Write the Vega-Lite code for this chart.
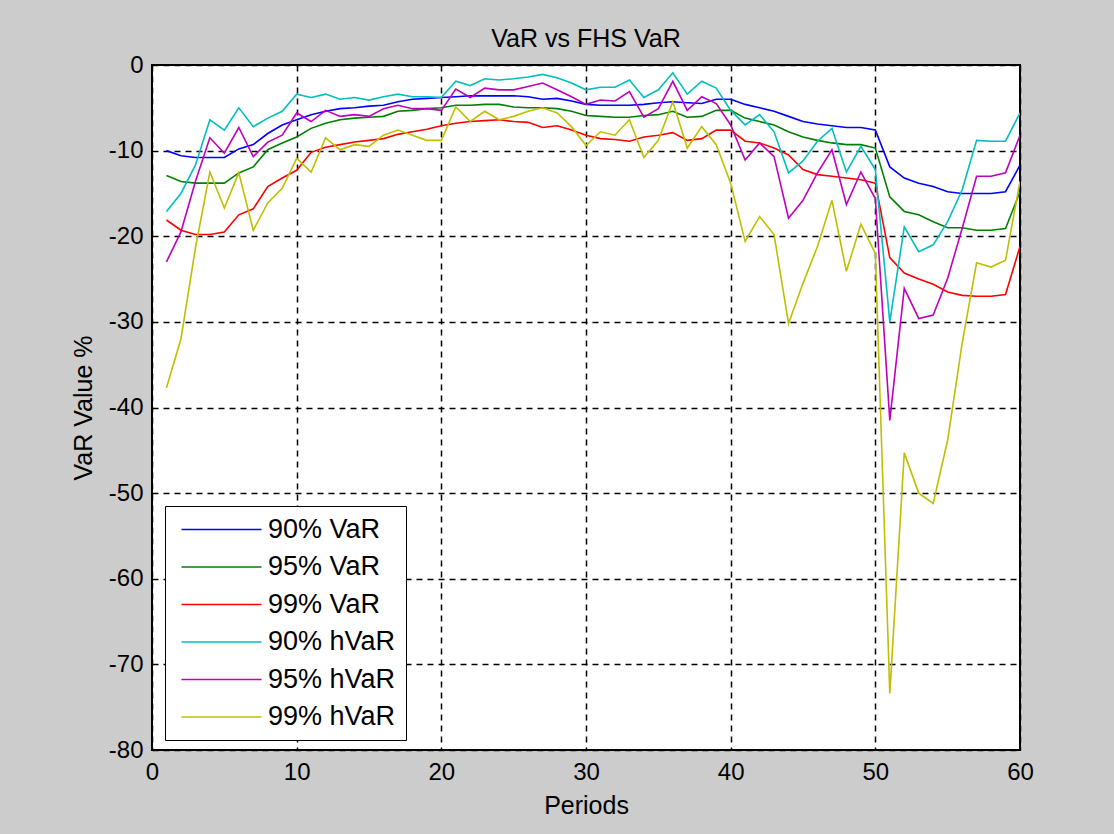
{
  "$schema": "https://vega.github.io/schema/vega-lite/v6.json",
  "width": 868,
  "height": 685,
  "autosize": "none",
  "padding": {"left": 152, "top": 65, "right": 94, "bottom": 84},
  "background": "#cccccc",
  "title": {"text": "VaR vs FHS VaR", "font": "Liberation Sans", "fontSize": 25, "fontWeight": "normal", "color": "black", "offset": 1},
  "config": {
    "view": {"fill": "white", "stroke": "black", "strokeWidth": 2},
    "axis": {"labelFont": "Liberation Sans", "labelFontSize": 24, "labelColor": "black", "titleFont": "Liberation Sans", "titleFontSize": 25, "titleFontWeight": "normal", "titleColor": "black", "ticks": false, "domain": false, "grid": true, "gridColor": "black", "gridDash": [6, 5], "gridWidth": 1.5, "gridOpacity": 1, "labelExpr": "'' + datum.value"}
  },
  "data": {
    "values": [
      {"p": 1, "90% VaR": -10.0, "95% VaR": -12.9, "99% VaR": -18.1, "90% hVaR": -17.1, "95% hVaR": -23.0, "99% hVaR": -37.7},
      {"p": 2, "90% VaR": -10.6, "95% VaR": -13.6, "99% VaR": -19.3, "90% hVaR": -15.0, "95% hVaR": -19.5, "99% hVaR": -32.0},
      {"p": 3, "90% VaR": -10.8, "95% VaR": -13.8, "99% VaR": -19.8, "90% hVaR": -11.7, "95% hVaR": -13.6, "99% hVaR": -21.4},
      {"p": 4, "90% VaR": -10.8, "95% VaR": -13.8, "99% VaR": -19.8, "90% hVaR": -6.4, "95% hVaR": -8.5, "99% hVaR": -12.5},
      {"p": 5, "90% VaR": -10.8, "95% VaR": -13.8, "99% VaR": -19.5, "90% hVaR": -7.6, "95% hVaR": -10.3, "99% hVaR": -16.7},
      {"p": 6, "90% VaR": -9.8, "95% VaR": -12.6, "99% VaR": -17.5, "90% hVaR": -5.0, "95% hVaR": -7.3, "99% hVaR": -12.6},
      {"p": 7, "90% VaR": -9.3, "95% VaR": -11.9, "99% VaR": -16.8, "90% hVaR": -7.2, "95% hVaR": -10.7, "99% hVaR": -19.3},
      {"p": 8, "90% VaR": -8.0, "95% VaR": -9.9, "99% VaR": -14.2, "90% hVaR": -6.2, "95% hVaR": -9.0, "99% hVaR": -16.1},
      {"p": 9, "90% VaR": -7.0, "95% VaR": -9.1, "99% VaR": -13.2, "90% hVaR": -5.4, "95% hVaR": -8.2, "99% hVaR": -14.4},
      {"p": 10, "90% VaR": -6.4, "95% VaR": -8.4, "99% VaR": -12.3, "90% hVaR": -3.4, "95% hVaR": -5.6, "99% hVaR": -10.9},
      {"p": 11, "90% VaR": -5.8, "95% VaR": -7.4, "99% VaR": -10.2, "90% hVaR": -3.8, "95% hVaR": -6.6, "99% hVaR": -12.5},
      {"p": 12, "90% VaR": -5.4, "95% VaR": -6.8, "99% VaR": -9.6, "90% hVaR": -3.4, "95% hVaR": -5.3, "99% hVaR": -8.5},
      {"p": 13, "90% VaR": -5.1, "95% VaR": -6.4, "99% VaR": -9.3, "90% hVaR": -4.0, "95% hVaR": -6.0, "99% hVaR": -9.9},
      {"p": 14, "90% VaR": -5.0, "95% VaR": -6.2, "99% VaR": -9.0, "90% hVaR": -3.8, "95% hVaR": -5.8, "99% hVaR": -9.3},
      {"p": 15, "90% VaR": -4.8, "95% VaR": -6.1, "99% VaR": -8.8, "90% hVaR": -4.1, "95% hVaR": -6.0, "99% hVaR": -9.5},
      {"p": 16, "90% VaR": -4.7, "95% VaR": -6.0, "99% VaR": -8.6, "90% hVaR": -3.7, "95% hVaR": -5.1, "99% hVaR": -8.2},
      {"p": 17, "90% VaR": -4.3, "95% VaR": -5.4, "99% VaR": -8.1, "90% hVaR": -3.4, "95% hVaR": -4.7, "99% hVaR": -7.6},
      {"p": 18, "90% VaR": -4.0, "95% VaR": -5.3, "99% VaR": -7.8, "90% hVaR": -3.7, "95% hVaR": -5.1, "99% hVaR": -8.2},
      {"p": 19, "90% VaR": -3.9, "95% VaR": -5.1, "99% VaR": -7.5, "90% hVaR": -3.7, "95% hVaR": -5.1, "99% hVaR": -8.8},
      {"p": 20, "90% VaR": -3.8, "95% VaR": -5.0, "99% VaR": -7.1, "90% hVaR": -3.8, "95% hVaR": -5.3, "99% hVaR": -8.8},
      {"p": 21, "90% VaR": -3.7, "95% VaR": -4.7, "99% VaR": -6.8, "90% hVaR": -1.9, "95% hVaR": -2.8, "99% hVaR": -4.9},
      {"p": 22, "90% VaR": -3.6, "95% VaR": -4.7, "99% VaR": -6.6, "90% hVaR": -2.4, "95% hVaR": -3.8, "99% hVaR": -6.6},
      {"p": 23, "90% VaR": -3.6, "95% VaR": -4.6, "99% VaR": -6.5, "90% hVaR": -1.6, "95% hVaR": -2.7, "99% hVaR": -5.4},
      {"p": 24, "90% VaR": -3.6, "95% VaR": -4.6, "99% VaR": -6.4, "90% hVaR": -1.75, "95% hVaR": -2.9, "99% hVaR": -6.4},
      {"p": 25, "90% VaR": -3.6, "95% VaR": -4.9, "99% VaR": -6.6, "90% hVaR": -1.6, "95% hVaR": -2.9, "99% hVaR": -6.0},
      {"p": 26, "90% VaR": -3.7, "95% VaR": -5.0, "99% VaR": -6.7, "90% hVaR": -1.4, "95% hVaR": -2.5, "99% hVaR": -5.4},
      {"p": 27, "90% VaR": -4.0, "95% VaR": -5.0, "99% VaR": -7.3, "90% hVaR": -1.1, "95% hVaR": -2.1, "99% hVaR": -5.0},
      {"p": 28, "90% VaR": -3.9, "95% VaR": -5.1, "99% VaR": -7.1, "90% hVaR": -1.5, "95% hVaR": -2.9, "99% hVaR": -5.6},
      {"p": 29, "90% VaR": -4.2, "95% VaR": -5.4, "99% VaR": -7.6, "90% hVaR": -2.1, "95% hVaR": -3.7, "99% hVaR": -7.2},
      {"p": 30, "90% VaR": -4.6, "95% VaR": -5.9, "99% VaR": -8.2, "90% hVaR": -2.9, "95% hVaR": -4.6, "99% hVaR": -9.4},
      {"p": 31, "90% VaR": -4.7, "95% VaR": -6.0, "99% VaR": -8.6, "90% hVaR": -2.6, "95% hVaR": -4.1, "99% hVaR": -7.8},
      {"p": 32, "90% VaR": -4.7, "95% VaR": -6.1, "99% VaR": -8.7, "90% hVaR": -2.6, "95% hVaR": -4.2, "99% hVaR": -8.2},
      {"p": 33, "90% VaR": -4.7, "95% VaR": -6.1, "99% VaR": -8.9, "90% hVaR": -1.75, "95% hVaR": -3.1, "99% hVaR": -6.4},
      {"p": 34, "90% VaR": -4.6, "95% VaR": -5.9, "99% VaR": -8.4, "90% hVaR": -3.8, "95% hVaR": -6.1, "99% hVaR": -10.8},
      {"p": 35, "90% VaR": -4.4, "95% VaR": -5.8, "99% VaR": -8.2, "90% hVaR": -2.9, "95% hVaR": -5.1, "99% hVaR": -8.8},
      {"p": 36, "90% VaR": -4.3, "95% VaR": -5.4, "99% VaR": -7.9, "90% hVaR": -0.9, "95% hVaR": -1.9, "99% hVaR": -4.3},
      {"p": 37, "90% VaR": -4.4, "95% VaR": -6.1, "99% VaR": -8.8, "90% hVaR": -3.4, "95% hVaR": -5.3, "99% hVaR": -9.7},
      {"p": 38, "90% VaR": -4.5, "95% VaR": -6.0, "99% VaR": -8.6, "90% hVaR": -1.9, "95% hVaR": -3.7, "99% hVaR": -7.2},
      {"p": 39, "90% VaR": -4.0, "95% VaR": -5.3, "99% VaR": -7.6, "90% hVaR": -2.7, "95% hVaR": -4.5, "99% hVaR": -9.3},
      {"p": 40, "90% VaR": -4.0, "95% VaR": -5.3, "99% VaR": -7.6, "90% hVaR": -5.3, "95% hVaR": -7.0, "99% hVaR": -13.8},
      {"p": 41, "90% VaR": -4.6, "95% VaR": -6.2, "99% VaR": -8.9, "90% hVaR": -7.0, "95% hVaR": -11.1, "99% hVaR": -20.6},
      {"p": 42, "90% VaR": -5.0, "95% VaR": -6.6, "99% VaR": -9.1, "90% hVaR": -5.8, "95% hVaR": -9.1, "99% hVaR": -17.7},
      {"p": 43, "90% VaR": -5.4, "95% VaR": -7.0, "99% VaR": -9.7, "90% hVaR": -7.8, "95% hVaR": -10.7, "99% hVaR": -19.8},
      {"p": 44, "90% VaR": -6.0, "95% VaR": -7.8, "99% VaR": -10.5, "90% hVaR": -12.6, "95% hVaR": -17.9, "99% hVaR": -30.2},
      {"p": 45, "90% VaR": -6.6, "95% VaR": -8.4, "99% VaR": -12.2, "90% hVaR": -11.2, "95% hVaR": -15.8, "99% hVaR": -25.5},
      {"p": 46, "90% VaR": -6.9, "95% VaR": -8.8, "99% VaR": -12.8, "90% hVaR": -8.9, "95% hVaR": -12.6, "99% hVaR": -21.2},
      {"p": 47, "90% VaR": -7.1, "95% VaR": -9.1, "99% VaR": -13.0, "90% hVaR": -7.4, "95% hVaR": -9.9, "99% hVaR": -15.8},
      {"p": 48, "90% VaR": -7.3, "95% VaR": -9.3, "99% VaR": -13.2, "90% hVaR": -12.5, "95% hVaR": -16.3, "99% hVaR": -24.1},
      {"p": 49, "90% VaR": -7.3, "95% VaR": -9.3, "99% VaR": -13.4, "90% hVaR": -9.5, "95% hVaR": -12.5, "99% hVaR": -18.6},
      {"p": 50, "90% VaR": -7.6, "95% VaR": -9.7, "99% VaR": -13.8, "90% hVaR": -12.2, "95% hVaR": -15.6, "99% hVaR": -22.0},
      {"p": 51, "90% VaR": -11.9, "95% VaR": -15.4, "99% VaR": -22.5, "90% hVaR": -30.0, "95% hVaR": -41.5, "99% hVaR": -73.4},
      {"p": 52, "90% VaR": -13.2, "95% VaR": -17.1, "99% VaR": -24.3, "90% hVaR": -18.9, "95% hVaR": -26.1, "99% hVaR": -45.3},
      {"p": 53, "90% VaR": -13.8, "95% VaR": -17.5, "99% VaR": -25.0, "90% hVaR": -21.8, "95% hVaR": -29.6, "99% hVaR": -50.0},
      {"p": 54, "90% VaR": -14.2, "95% VaR": -18.3, "99% VaR": -25.6, "90% hVaR": -21.0, "95% hVaR": -29.2, "99% hVaR": -51.2},
      {"p": 55, "90% VaR": -14.8, "95% VaR": -19.0, "99% VaR": -26.5, "90% hVaR": -18.3, "95% hVaR": -24.9, "99% hVaR": -43.8},
      {"p": 56, "90% VaR": -15.0, "95% VaR": -19.0, "99% VaR": -26.9, "90% hVaR": -14.6, "95% hVaR": -19.1, "99% hVaR": -32.5},
      {"p": 57, "90% VaR": -15.0, "95% VaR": -19.3, "99% VaR": -27.0, "90% hVaR": -8.8, "95% hVaR": -13.0, "99% hVaR": -23.1},
      {"p": 58, "90% VaR": -15.0, "95% VaR": -19.3, "99% VaR": -27.0, "90% hVaR": -8.9, "95% hVaR": -13.0, "99% hVaR": -23.6},
      {"p": 59, "90% VaR": -14.8, "95% VaR": -19.1, "99% VaR": -26.8, "90% hVaR": -8.9, "95% hVaR": -12.6, "99% hVaR": -22.8},
      {"p": 60, "90% VaR": -11.7, "95% VaR": -14.8, "99% VaR": -21.2, "90% hVaR": -5.6, "95% hVaR": -8.2, "99% hVaR": -13.6}
    ]
  },
  "transform": [
    {"fold": ["90% VaR", "95% VaR", "99% VaR", "90% hVaR", "95% hVaR", "99% hVaR"], "as": ["series", "value"]}
  ],
  "mark": {"type": "line", "strokeWidth": 1.6, "clip": true},
  "encoding": {
    "x": {"field": "p", "type": "quantitative", "title": "Periods", "scale": {"domain": [0, 60], "nice": false},
      "axis": {"values": [0, 10, 20, 30, 40, 50, 60], "labelPadding": 10, "titlePadding": 9, "labelFlush": false}},
    "y": {"field": "value", "type": "quantitative", "title": "VaR Value %", "scale": {"domain": [-80, 0], "nice": false},
      "axis": {"values": [-80, -70, -60, -50, -40, -30, -20, -10, 0], "labelPadding": 9, "titlePadding": 12, "labelFlush": false}},
    "color": {"field": "series", "type": "nominal",
      "scale": {"domain": ["90% VaR", "95% VaR", "99% VaR", "90% hVaR", "95% hVaR", "99% hVaR"],
                "range": ["#0000ff", "#008000", "#ff0000", "#00bfbf", "#bf00bf", "#bfbf00"]},
      "legend": {"orient": "none", "legendX": 13, "legendY": 441, "title": null, "symbolType": "M-4,0L4,0", "symbolSize": 400, "symbolStrokeWidth": 1.6, "symbolOffset": 33,
        "labelFont": "Liberation Sans", "labelFontSize": 27, "labelColor": "black", "labelOffset": 33,
        "strokeColor": "black", "fillColor": "white", "padding": 10, "rowPadding": 9.5}
    }
  }
}
